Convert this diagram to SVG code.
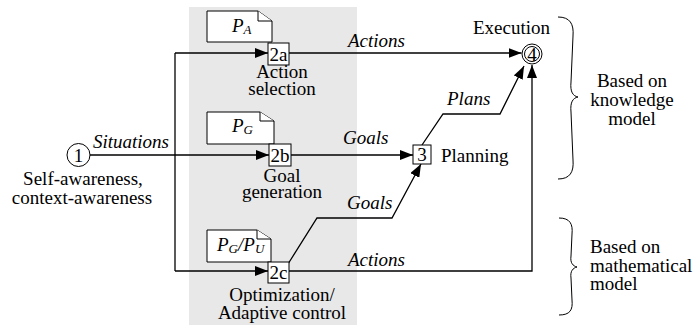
<svg xmlns="http://www.w3.org/2000/svg" width="694" height="325" viewBox="0 0 694 325" font-family="Liberation Serif, Times New Roman, serif" font-size="19">
<defs>
<style>
.dummy{fill:none}
.t{font-family:"Liberation Serif","Times New Roman",serif;font-size:19px;fill:#000}
.it{font-style:italic}
.m{text-anchor:middle}
.ln{fill:none;stroke:#000;stroke-width:1.3}
.box{fill:#fff;stroke:#000;stroke-width:1}
.doc{fill:#fff;stroke:#000;stroke-width:1}
.sub{font-size:13px;font-style:italic}
</style>
<marker id="ah" viewBox="0 0 13 10" refX="13" refY="5" markerWidth="13" markerHeight="10" markerUnits="userSpaceOnUse" orient="auto"><path d="M0,0 L13,5 L0,10 Z" fill="#000"/></marker>
</defs>
<rect x="189" y="7" width="168" height="318" fill="#e8e8e8"/>
<g id="connectors">
<path class="ln" d="M90,155 H269" marker-end="url(#ah)"/>
<path class="ln" d="M175,53 V271"/>
<path class="ln" d="M175,53 H268" marker-end="url(#ah)"/>
<path class="ln" d="M175,271 H268" marker-end="url(#ah)"/>
<path class="ln" d="M289,53 H521.5" marker-end="url(#ah)"/>
<path class="ln" d="M291,155 H413" marker-end="url(#ah)"/>
<path class="ln" d="M422,145 L443,114 H500 L524,66" marker-end="url(#ah)"/>
<path class="ln" d="M288,264 L317,218 H392 L421,164" marker-end="url(#ah)"/>
<path class="ln" d="M289,271 H532 V65" marker-end="url(#ah)"/>
<text class="t it" x="93" y="148">Situations</text>
<text class="t it" x="348" y="47">Actions</text>
<text class="t it" x="343" y="144">Goals</text>
<text class="t it" x="447" y="105">Plans</text>
<text class="t it" x="347" y="209">Goals</text>
<text class="t it" x="348" y="266">Actions</text>
</g>
<g id="n1">
<circle cx="78.5" cy="155" r="11.5" fill="#fff" stroke="#000" stroke-width="1"/>
<text class="t m" x="78.5" y="161.5">1</text>
<text class="t m" x="83" y="185">Self-awareness,</text>
<text class="t m" x="82" y="204">context-awareness</text>
</g>
<g id="n2a">
<path class="doc" d="M207,11 H258 L272,21 V42 H207 Z"/>
<path class="doc" d="M258,11 V21 H272"/>
<text class="t it" x="232" y="32">P<tspan class="sub" dy="2">A</tspan></text>
<rect class="box" x="268" y="43" width="21" height="22"/>
<text class="t m" x="278.5" y="60.5">2a</text>
<text class="t m" x="282" y="78">Action</text>
<text class="t m" x="282" y="95">selection</text>
</g>
<g id="n2b">
<path class="doc" d="M207,112 H260 L274,121 V144 H207 Z"/>
<path class="doc" d="M260,112 V121 H274"/>
<text class="t it" x="232" y="132">P<tspan class="sub" dy="2">G</tspan></text>
<rect class="box" x="269" y="144" width="22" height="22"/>
<text class="t m" x="280" y="161.5">2b</text>
<text class="t m" x="282" y="182">Goal</text>
<text class="t m" x="282" y="198">generation</text>
</g>
<g id="n2c">
<path class="doc" d="M207,230 H257 L271,239 V262 H207 Z"/>
<path class="doc" d="M257,230 V239 H271"/>
<text class="t it" x="217" y="251">P<tspan class="sub" dy="2">G</tspan><tspan dy="-2">/P</tspan><tspan class="sub" dy="2">U</tspan></text>
<rect class="box" x="268" y="262" width="21" height="21"/>
<text class="t m" x="278.5" y="278.5">2c</text>
<text class="t m" x="282" y="301">Optimization/</text>
<text class="t m" x="282" y="319">Adaptive control</text>
</g>
<g id="n3">
<rect class="box" x="413" y="145" width="18" height="19"/>
<text class="t m" x="422" y="161">3</text>
<text class="t" x="441" y="162">Planning</text>
</g>
<g id="n4">
<circle cx="532" cy="54" r="10" fill="#fff" stroke="#000" stroke-width="1"/>
<circle cx="532" cy="54" r="7.5" fill="none" stroke="#000" stroke-width="1"/>
<text class="t m" x="532" y="60.5">4</text>
<text class="t m" x="511.5" y="34">Execution</text>
</g>
<g id="brace-knowledge">
<path class="ln" d="M558,17 C570,17 574,24 573,36 L571,82 C570,92 573,96 578,97 C573,98 570,102 571,112 L573,160 C574,172 570,179 558,179" style="stroke-width:1"/>
<text class="t m" x="632" y="87">Based on</text>
<text class="t m" x="632" y="106">knowledge</text>
<text class="t m" x="632" y="125">model</text>
</g>
<g id="brace-math">
<path class="ln" d="M559,218 C570,218 573,224 572,234 L571,256 C570,263 573,266 577,267 C573,268 570,271 571,278 L572,300 C573,310 570,315 559,315" style="stroke-width:1"/>
<text class="t" x="590" y="253">Based on</text>
<text class="t" x="590" y="272">mathematical</text>
<text class="t" x="590" y="290">model</text>
</g>
</svg>
